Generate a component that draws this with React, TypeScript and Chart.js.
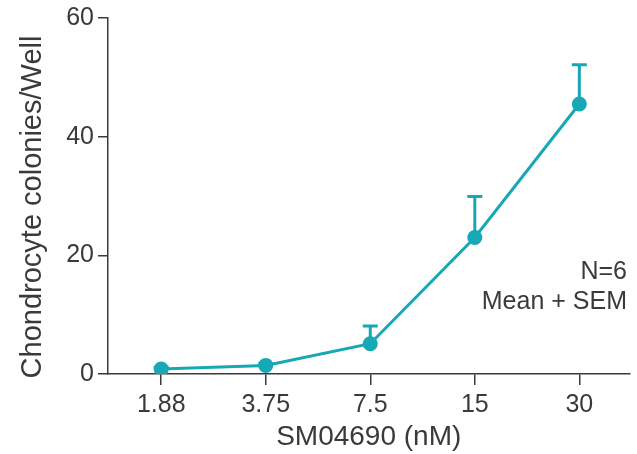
import React, { useEffect, useRef } from "react";
import { Chart, registerables } from "chart.js";

Chart.register(...registerables);

const categories = ["1.88", "3.75", "7.5", "15", "30"];
const meanValues = [0.85, 1.45, 5.1, 23.0, 45.5];
const semValues = [0.3, 0.3, 3.0, 6.9, 6.6];
const yTicks = [0, 20, 40, 60];
const noteLines = ["N=6", "Mean + SEM"];
const xTitle = "SM04690 (nM)";
const yTitle = "Chondrocyte colonies/Well";

const TEAL = "#17a8b5";
const TEXT = "#3a3a3a";
const AXIS = "#3a3a3a";
const FONT = "'Liberation Sans', Arial, Helvetica, sans-serif";

const errorBarPlugin = {
  id: "errorBars",
  beforeDatasetsDraw(chart: any) {
    const { ctx, scales } = chart;
    const xs = scales.x;
    const ys = scales.y;
    ctx.save();
    ctx.strokeStyle = TEAL;
    ctx.lineWidth = 3;
    meanValues.forEach((m, i) => {
      const x = xs.getPixelForValue(i);
      const y0 = ys.getPixelForValue(m);
      const y1 = ys.getPixelForValue(m + semValues[i]);
      ctx.beginPath();
      ctx.moveTo(x, y0);
      ctx.lineTo(x, y1);
      ctx.moveTo(x - 7.5, y1);
      ctx.lineTo(x + 7.5, y1);
      ctx.stroke();
    });
    ctx.restore();
  },
  afterDraw(chart: any) {
    const { ctx, chartArea } = chart;
    ctx.save();
    ctx.fillStyle = TEXT;
    ctx.font = `25px ${FONT}`;
    ctx.textAlign = "right";
    ctx.textBaseline = "middle";
    noteLines.forEach((t, i) => {
      ctx.fillText(t, 627, 272 + i * 30);
    });
    // y axis title
    ctx.font = `29px ${FONT}`;
    ctx.textAlign = "center";
    ctx.translate(33, (chartArea.top + chartArea.bottom) / 2 + 11);
    ctx.rotate(-Math.PI / 2);
    ctx.fillText(yTitle, 0, 0);
    ctx.restore();
  },
};

export default function App() {
  const canvasRef = useRef<HTMLCanvasElement | null>(null);

  useEffect(() => {
    document.body.style.margin = "0";
    const canvas = canvasRef.current;
    if (!canvas) return;
    const chart = new Chart(canvas, {
      type: "line",
      data: {
        datasets: [
          {
            data: meanValues.map((v, i) => ({ x: i, y: v })),
            borderColor: TEAL,
            backgroundColor: TEAL,
            borderWidth: 3,
            pointRadius: 7.5,
            pointHoverRadius: 7.5,
            pointBackgroundColor: TEAL,
            pointBorderWidth: 0,
            tension: 0,
          },
        ],
      },
      options: {
        animation: false,
        responsive: false,
        maintainAspectRatio: false,
        layout: { padding: { left: 0, right: 0, top: 18, bottom: 0 } },
        plugins: { legend: { display: false }, tooltip: { enabled: false } },
        scales: {
          x: {
            type: "linear",
            min: -0.509,
            max: 4.48,
            afterBuildTicks: (scale: any) => {
              scale.ticks = categories.map((_, i) => ({ value: i }));
            },
            afterFit: (scale: any) => {
              scale.height = 80;
              scale.paddingRight = 0;
              scale.paddingLeft = 0;
            },
            ticks: {
              callback: (v: any) => categories[Math.round(Number(v))] ?? "",
              color: TEXT,
              font: { family: FONT, size: 25 },
              padding: 5,
              maxRotation: 0,
              autoSkip: false,
            },
            grid: {
              drawOnChartArea: false,
              drawTicks: true,
              tickLength: 11,
              color: AXIS,
              lineWidth: 1.5,
            },
            border: { display: true, color: AXIS, width: 1.5 },
            title: {
              display: true,
              text: xTitle,
              color: TEXT,
              font: { family: FONT, size: 28 },
              padding: { top: 0, bottom: 0 },
            },
          },
          y: {
            min: 0,
            max: 60,
            afterBuildTicks: (scale: any) => {
              scale.ticks = yTicks.map((v) => ({ value: v }));
            },
            afterFit: (scale: any) => {
              scale.width = 108;
              scale.paddingTop = 0;
              scale.paddingBottom = 0;
            },
            ticks: {
              color: TEXT,
              font: { family: FONT, size: 25 },
              padding: 4,
            },
            grid: {
              drawOnChartArea: false,
              drawTicks: true,
              tickLength: 10,
              color: AXIS,
              lineWidth: 1.5,
            },
            border: { display: true, color: AXIS, width: 1.5 },
            title: { display: false },
          },
        },
      },
      plugins: [errorBarPlugin],
    });
    return () => chart.destroy();
  }, []);

  return (
    <div style={{ width: 637, height: 454 }}>
      <canvas ref={canvasRef} width={637} height={454} style={{ width: 637, height: 454 }} />
    </div>
  );
}
